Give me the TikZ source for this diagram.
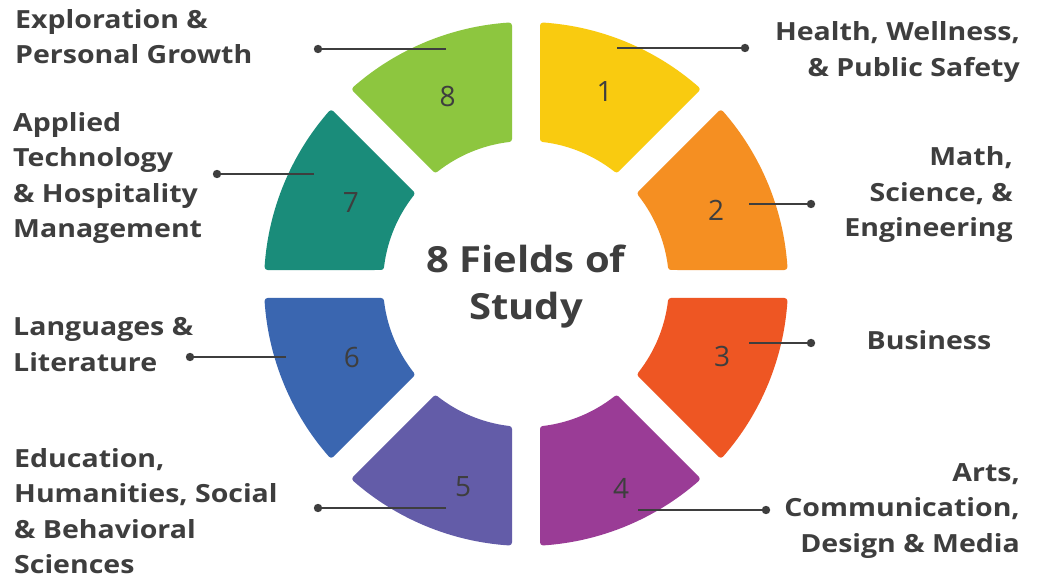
\documentclass[tikz,border=0pt]{standalone}
\usepackage{fontspec}
\setmainfont{Open Sans}
\newfontfamily\lblfont{Open Sans}[FakeStretch=1.14]
\newfontfamily\ttlfont{Open Sans}[FakeStretch=1.11]
\definecolor{txt}{RGB}{62,62,62}
\definecolor{cA}{RGB}{249,203,16}
\definecolor{cB}{RGB}{245,143,34}
\definecolor{cC}{RGB}{238,86,35}
\definecolor{cD}{RGB}{154,60,150}
\definecolor{cE}{RGB}{99,92,168}
\definecolor{cF}{RGB}{58,102,176}
\definecolor{cG}{RGB}{26,140,122}
\definecolor{cH}{RGB}{141,198,63}
\tikzset{
  seg/.style={line width=6pt,line join=round},
  num/.style={text=txt,font=\fontsize{28}{30}\selectfont,inner sep=0pt},
  lbl/.style={text=txt,font=\fontsize{25}{35.5}\selectfont\lblfont\bfseries,inner sep=0pt},
  ttl/.style={text=txt,font=\fontsize{36}{47}\selectfont\ttlfont\bfseries,inner sep=0pt,align=center},
  conn/.style={draw=txt,line width=2pt},
  dotc/.style={fill=txt}
}
\begin{document}
\begin{tikzpicture}[x=1pt,y=1pt]
\useasboundingbox (0,0) rectangle (1041,578);
\fill[white] (0,0) rectangle (1041,578);
\begin{scope}[shift={(526,294)}]
\foreach \k/\col in {1/cA,2/cB,3/cC,4/cD,5/cE,6/cF,7/cG,8/cH}{
  \pgfmathsetmacro\a{90-45*(\k-1)}
  \pgfmathsetmacro\ao{\a-3.763}
  \pgfmathsetmacro\bo{\a-45+3.763}
  \pgfmathsetmacro\bi{\a-45+6.686}
  \pgfmathsetmacro\ai{\a-6.686}
  \filldraw[seg,fill=\col,draw=\col] (\ao:259) arc[start angle=\ao,end angle=\bo,radius=259]
    -- (\bi:146) arc[start angle=\bi,end angle=\ai,radius=146] -- cycle;
}
\end{scope}
% numbers
\node[num] (n1) at (604.6,486) {1};
\node[num] (n2) at (716,368) {2};
\node[num] (n3) at (722,221) {3};
\node[num] (n4) at (621,90) {4};
\node[num] (n5) at (463,91) {5};
\node[num] (n6) at (352,220) {6};
\node[num] (n7) at (351,375) {7};
\node[num] (n8) at (447.5,481) {8};
% title
\node[ttl] (title) at (526,291.5) {8 Fields of\\Study};
% connector endpoints
\coordinate (s1) at (617,530); \coordinate (d1) at (745,530);
\coordinate (s2) at (749,374); \coordinate (d2) at (811,374);
\coordinate (s3) at (749,235); \coordinate (d3) at (811,235);
\coordinate (s4) at (638,68);  \coordinate (d4) at (766,68);
\coordinate (s5) at (446,70);  \coordinate (d5) at (318,70);
\coordinate (s6) at (286,221); \coordinate (d6) at (190,221);
\coordinate (s7) at (314,404); \coordinate (d7) at (217,404);
\coordinate (s8) at (446,529); \coordinate (d8) at (318,529);
\foreach \i in {1,...,8}{
  \draw[conn] (s\i) -- (d\i);
  \fill[dotc] (d\i) circle (4.2);
}
% labels
\node[lbl,anchor=east,align=right] (l1) at (1020,526) {Health, Wellness,\\\& Public Safety};
\node[lbl,anchor=east,align=right] (l2) at (1013,383) {Math,\\Science, \&\\Engineering};
\node[lbl] (l3) at (929,238) {Business};
\node[lbl,anchor=east,align=right] (l4) at (1020,67) {Arts,\\Communication,\\Design \& Media};
\node[lbl,anchor=west,align=left] (l5) at (14,67) {Education,\\Humanities, Social\\\& Behavioral\\Sciences};
\node[lbl,anchor=west,align=left] (l6) at (13,233.5) {Languages \&\\Literature};
\node[lbl,anchor=west,align=left] (l7) at (13,400) {Applied\\Technology\\\& Hospitality\\Management};
\node[lbl,anchor=west,align=left] (l8) at (15,541.5) {Exploration \&\\Personal Growth};
\end{tikzpicture}
\end{document}
